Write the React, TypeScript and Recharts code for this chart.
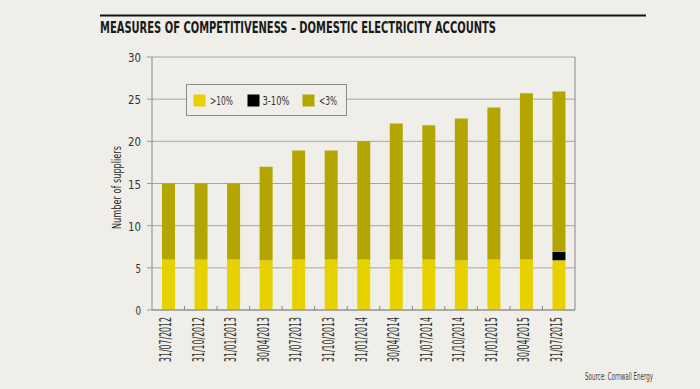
import { Bar, BarChart, CartesianGrid, Label, Legend, XAxis, YAxis } from "recharts";

const categories = [
  "31/07/2012",
  "31/10/2012",
  "31/01/2013",
  "30/04/2013",
  "31/07/2013",
  "31/10/2013",
  "31/01/2014",
  "30/04/2014",
  "31/07/2014",
  "31/10/2014",
  "31/01/2015",
  "30/04/2015",
  "31/07/2015",
];
const over10 = [6, 6, 6, 5.9, 6, 6, 6, 6, 6, 5.9, 6, 6, 5.9];
const from3to10 = [0, 0, 0, 0, 0, 0, 0, 0, 0, 0, 0, 0, 1];
const under3 = [9, 9, 9, 11.1, 12.9, 12.9, 14, 16.1, 15.9, 16.8, 18, 19.7, 19];
const yTicks = [0, 5, 10, 15, 20, 25, 30];

const seriesNames = [">10%", "3-10%", "<3%"];
const colors = ["#e8d100", "#000000", "#b4a600"];

const data = categories.map((date, i) => ({
  date,
  over10: over10[i],
  mid: from3to10[i],
  under3: under3[i],
}));

const BG = "#efeee8";
const FONT = "'Liberation Sans Narrow', 'DejaVu Sans Condensed', Roboto, sans-serif";

function XTick(props: any) {
  const { x, y, payload, index } = props;
  const off = payload && payload.offset;
  return (
    <g>
      {index < categories.length - 1 && off ? (
        <line x1={x + off} x2={x + off} y1={y - 4} y2={y} stroke="#888" />
      ) : null}
      <text
        x={x + 3}
        y={y + 7}
        transform={`rotate(-90, ${x + 3}, ${y + 7})`}
        textAnchor="end"
        fontSize={16}
        fontFamily={FONT}
        fill="#333"
        textLength={45}
        lengthAdjust="spacingAndGlyphs"
      >
        {payload.value}
      </text>
    </g>
  );
}

function YTick(props: any) {
  const { x, y, payload } = props;
  const s = String(payload.value);
  return (
    <text
      x={x}
      y={y + 5}
      textAnchor="end"
      fontSize={13}
      fontFamily={FONT}
      fill="#333"
      textLength={s.length === 1 ? 5.5 : 13}
      lengthAdjust="spacingAndGlyphs"
    >
      {s}
    </text>
  );
}

// legend item placement inside the box: swatch x, label x, label width
const legendSwatchX = [7.5, 61.5, 116.5];
const legendTextX = [24, 76.5, 133];
const legendTextW = [23, 27, 18];

function LegendBox() {
  return (
    <div style={{ position: "absolute", left: 186, top: 84 }}>
      <svg width={162} height={33}>
        <rect x={0.5} y={0.5} width={160} height={31} fill={BG} stroke="#8c8c8c" />
        {seriesNames.map((name, i) => (
          <g key={name}>
            <rect x={legendSwatchX[i]} y={10.5} width={12} height={12} fill={colors[i]} />
            <text
              x={legendTextX[i]}
              y={21}
              fontSize={12}
              fontFamily={FONT}
              fill="#333"
              textLength={legendTextW[i]}
              lengthAdjust="spacingAndGlyphs"
            >
              {name}
            </text>
          </g>
        ))}
      </svg>
    </div>
  );
}

export default function App() {
  return (
    <div
      style={{
        position: "absolute",
        left: 0,
        top: 0,
        width: 700,
        height: 389,
        background: BG,
        overflow: "hidden",
      }}
    >
      <svg width={700} height={389} style={{ position: "absolute", left: 0, top: 0 }}>
        <line x1={100} x2={646} y1={15.5} y2={15.5} stroke="#111" strokeWidth={2} />
        <text
          x={100}
          y={33}
          fontSize={16.5}
          fontWeight="bold"
          fontFamily={FONT}
          fill="#1a1a1a"
          textLength={396}
          lengthAdjust="spacingAndGlyphs"
        >
          MEASURES OF COMPETITIVENESS – DOMESTIC ELECTRICITY ACCOUNTS
        </text>
        <text
          x={585}
          y={380}
          fontSize={10}
          fontFamily={FONT}
          fill="#444"
          textLength={68}
          lengthAdjust="spacingAndGlyphs"
        >
          Source: Cornwall Energy
        </text>
      </svg>
      <div style={{ position: "absolute", left: 0, top: 0 }}>
        <BarChart
          width={700}
          height={389}
          data={data}
          margin={{ top: 57, right: 0, bottom: 0, left: 0 }}
          barSize={13}
        >
          <CartesianGrid vertical={false} stroke="#a6a6a6" yAxisId="left" />
          <XAxis
            dataKey="date"
            interval={0}
            height={79}
            tickSize={0}
            tickMargin={0}
            tick={<XTick />}
            axisLine={{ stroke: "#888" }}
          />
          <YAxis
            yAxisId="left"
            domain={[0, 30]}
            ticks={yTicks}
            width={152}
            tickSize={5}
            tickMargin={6}
            tick={<YTick />}
            tickLine={{ stroke: "#999" }}
            axisLine={{ stroke: "#888" }}
          >
            <Label
              content={(p: any) => {
                const vb = p.viewBox || { x: 0, y: 57, width: 152, height: 253 };
                const lx = vb.x + vb.width - 31;
                const ly = vb.y + vb.height / 2 + 4;
                return (
                  <text
                    x={lx}
                    y={ly}
                    transform={`rotate(-90, ${lx}, ${ly})`}
                    textAnchor="middle"
                    fontSize={12.5}
                    fontFamily={FONT}
                    fill="#2a2a2a"
                    textLength={83}
                    lengthAdjust="spacingAndGlyphs"
                  >
                    Number of suppliers
                  </text>
                );
              }}
            />
          </YAxis>
          <YAxis
            yAxisId="right"
            orientation="right"
            domain={[0, 30]}
            ticks={yTicks}
            width={125}
            tick={false}
            tickLine={false}
            axisLine={{ stroke: "#888" }}
          />
          <Legend content={<LegendBox />} wrapperStyle={{ position: "absolute", left: 0, top: 0 }} />
          <Bar yAxisId="left" dataKey="over10" name={seriesNames[0]} stackId="a" fill={colors[0]} isAnimationActive={false} />
          <Bar yAxisId="left" dataKey="mid" name={seriesNames[1]} stackId="a" fill={colors[1]} isAnimationActive={false} />
          <Bar yAxisId="left" dataKey="under3" name={seriesNames[2]} stackId="a" fill={colors[2]} isAnimationActive={false} />
        </BarChart>
      </div>
    </div>
  );
}
